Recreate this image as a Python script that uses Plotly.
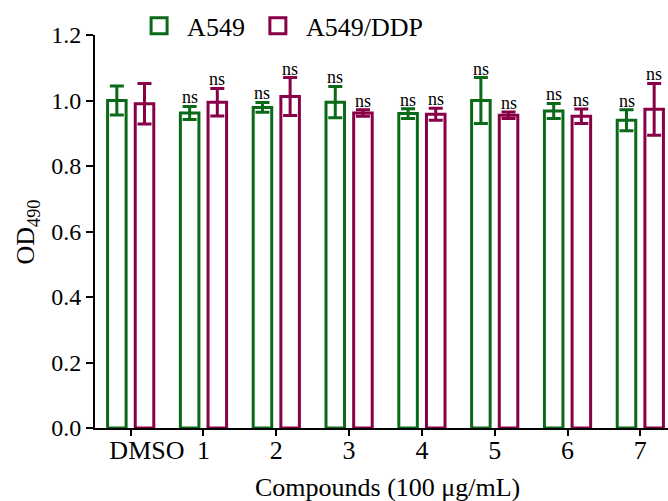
import plotly.graph_objects as go

categories = ["DMSO", "1", "2", "3", "4", "5", "6", "7"]
a549_mean = [1.000, 0.962, 0.979, 0.995, 0.960, 1.000, 0.968, 0.940]
a549_err = [0.044, 0.020, 0.015, 0.048, 0.015, 0.070, 0.023, 0.032]
ddp_mean = [0.990, 0.995, 1.012, 0.962, 0.958, 0.955, 0.952, 0.973]
ddp_err = [0.062, 0.042, 0.058, 0.010, 0.018, 0.010, 0.022, 0.079]
sig_a549 = ["", "ns", "ns", "ns", "ns", "ns", "ns", "ns"]
sig_ddp = ["", "ns", "ns", "ns", "ns", "ns", "ns", "ns"]
tick_labels = ["\u00a0\u00a0\u00a0\u00a0\u00a0DMSO", "1", "2", "3", "4", "5", "6", "7"]
x_title = "Compounds (100 \u03bcg/mL)"
y_title = "OD<sub>490</sub>"

GREEN = "#0b6a17"
MAROON = "#880046"
FONT = "Liberation Serif"

xpos = list(range(len(categories)))

fig = go.Figure()
for name, mean, err, col in [("A549", a549_mean, a549_err, GREEN),
                             ("A549/DDP", ddp_mean, ddp_err, MAROON)]:
    fig.add_trace(go.Bar(
        x=xpos, y=mean, name=name, showlegend=False,
        marker=dict(color="white", line=dict(color=col, width=3)),
        error_y=dict(type="data", array=err, visible=True, color=col,
                     thickness=3, width=7),
    ))
for name, col in [("A549", GREEN), ("A549/DDP", MAROON)]:
    fig.add_trace(go.Scatter(
        x=[None], y=[None], mode="markers", name=name,
        marker=dict(symbol="square-open", size=16, color=col,
                    line=dict(color=col, width=3)),
    ))

# significance labels
offset = 0.19
for i in xpos:
    if sig_a549[i]:
        fig.add_annotation(x=i - offset, y=a549_mean[i] + a549_err[i],
                           text=sig_a549[i], showarrow=False, yanchor="bottom",
                           yshift=-3, font=dict(family=FONT, size=18, color="black"))
    if sig_ddp[i]:
        fig.add_annotation(x=i + offset, y=ddp_mean[i] + ddp_err[i],
                           text=sig_ddp[i], showarrow=False, yanchor="bottom",
                           yshift=-3, font=dict(family=FONT, size=18, color="black"))

# axis titles
fig.add_annotation(xref="paper", yref="paper", x=0.5096, y=-0.152,
                   xanchor="center", yanchor="middle", showarrow=False,
                   text=x_title, font=dict(family=FONT, size=26, color="black"))
fig.add_annotation(xref="paper", yref="paper", x=-0.1187, y=0.5,
                   xanchor="center", yanchor="middle", showarrow=False, textangle=-90,
                   text=y_title, font=dict(family=FONT, size=26, color="black"))

fig.update_layout(
    width=668, height=501,
    margin=dict(l=95, r=0, t=35, b=73, autoexpand=False),
    paper_bgcolor="white", plot_bgcolor="white",
    barmode="group", bargap=0.24, bargroupgap=0.33,
    font=dict(family=FONT, size=24, color="black"),
    legend=dict(orientation="h", x=0.063, xanchor="left", y=1.023, yanchor="middle",
                itemwidth=46,
                font=dict(family=FONT, size=26, color="black"),
                bgcolor="rgba(0,0,0,0)"),
)
fig.update_xaxes(
    range=[-0.49, 7.38], tickmode="array", tickvals=xpos, ticktext=tick_labels,
    ticks="outside", ticklen=6, tickwidth=2, tickcolor="black",
    showline=True, linewidth=2, linecolor="black", showgrid=False, zeroline=False,
    ticklabelstandoff=-8,
    tickfont=dict(family=FONT, size=26),
)
fig.update_yaxes(
    range=[0, 1.2], dtick=0.2, tickformat=".1f",
    ticks="outside", ticklen=7, tickwidth=2, tickcolor="black",
    showline=True, linewidth=2, linecolor="black", showgrid=False, zeroline=False,
    tickfont=dict(family=FONT, size=24),
)

fig.write_html("out.html", config={"displayModeBar": False},
               post_script="document.body.style.margin='0px';")
